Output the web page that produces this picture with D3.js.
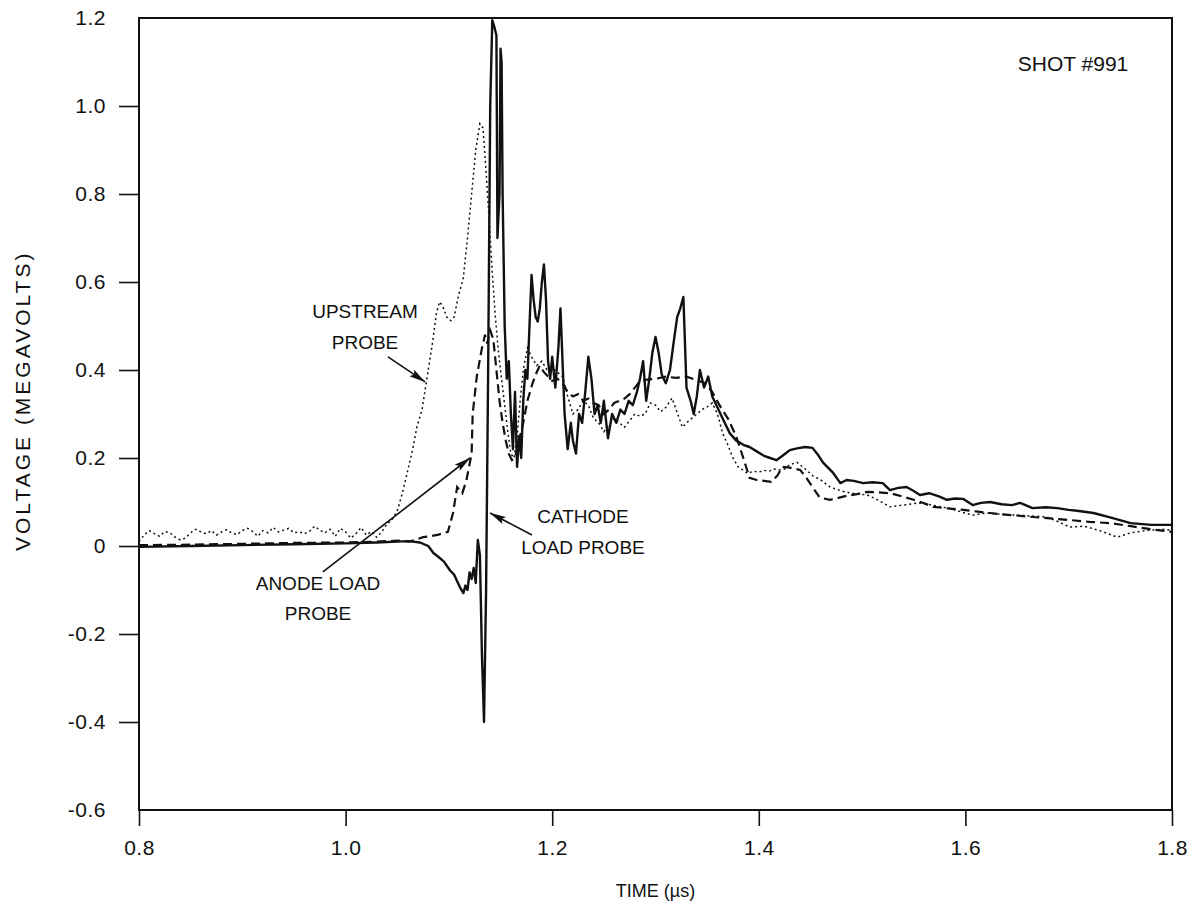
<!DOCTYPE html>
<html>
<head>
<meta charset="utf-8">
<script src="https://cdn.jsdelivr.net/npm/d3@7"></script>
<style>
  html, body { margin: 0; padding: 0; background: #fff; }
  svg { display: block; }
  text { font-family: "Liberation Sans", Arial, Helvetica, sans-serif; fill: #111; }
</style>
</head>
<body>
<svg id="chart" width="1194" height="908"></svg>
<script>
// ---------- DATA ----------
const xTicks = [0.8, 1.0, 1.2, 1.4, 1.6, 1.8];
const xTickLabels = ["0.8", "1.0", "1.2", "1.4", "1.6", "1.8"];
const yTicks = [-0.6, -0.4, -0.2, 0, 0.2, 0.4, 0.6, 0.8, 1.0, 1.2];
const yTickLabels = ["-0.6", "-0.4", "-0.2", "0", "0.2", "0.4", "0.6", "0.8", "1.0", "1.2"];

// Upstream probe (dotted)
const upT = [0.800,0.805,0.810,0.815,0.820,0.825,0.830,0.835,0.840,0.845,0.850,0.855,0.860,0.865,0.870,0.875,0.880,0.885,0.890,0.895,0.900,0.905,0.910,0.915,0.920,0.925,0.930,0.935,0.940,0.945,0.950,0.955,0.960,0.965,0.970,0.975,0.980,0.985,0.990,0.995,1.000,1.005,1.010,1.015,1.020,1.025,1.030,1.035,1.040,1.045,1.050,1.055,1.060,1.065,1.069,1.074,1.079,1.084,1.088,1.091,1.094,1.098,1.102,1.105,1.109,1.114,1.118,1.122,1.126,1.130,1.133,1.136,1.139,1.142,1.145,1.148,1.151,1.154,1.157,1.160,1.163,1.166,1.169,1.172,1.176,1.180,1.185,1.190,1.195,1.200,1.205,1.210,1.215,1.220,1.225,1.230,1.235,1.240,1.245,1.250,1.255,1.260,1.265,1.270,1.275,1.280,1.285,1.290,1.295,1.300,1.305,1.310,1.316,1.320,1.326,1.330,1.335,1.340,1.345,1.350,1.355,1.360,1.365,1.370,1.375,1.380,1.389,1.395,1.400,1.405,1.410,1.415,1.420,1.425,1.430,1.437,1.445,1.452,1.460,1.469,1.480,1.490,1.505,1.515,1.527,1.540,1.555,1.570,1.585,1.595,1.607,1.620,1.635,1.650,1.665,1.679,1.690,1.701,1.715,1.730,1.747,1.760,1.775,1.790,1.800];
const upV = [0.010,0.025,0.035,0.028,0.022,0.033,0.030,0.020,0.014,0.018,0.030,0.038,0.032,0.028,0.035,0.025,0.032,0.037,0.029,0.026,0.035,0.040,0.033,0.022,0.035,0.030,0.042,0.032,0.036,0.040,0.030,0.032,0.028,0.033,0.045,0.036,0.030,0.038,0.022,0.040,0.032,0.018,0.028,0.042,0.025,0.033,0.020,0.032,0.050,0.060,0.080,0.120,0.170,0.220,0.270,0.310,0.385,0.460,0.530,0.555,0.545,0.520,0.512,0.520,0.566,0.610,0.700,0.800,0.900,0.960,0.950,0.850,0.740,0.620,0.520,0.440,0.380,0.320,0.260,0.210,0.200,0.250,0.330,0.400,0.450,0.430,0.410,0.420,0.400,0.405,0.395,0.385,0.340,0.300,0.310,0.330,0.320,0.290,0.280,0.260,0.275,0.290,0.280,0.270,0.285,0.300,0.295,0.300,0.325,0.320,0.305,0.315,0.336,0.310,0.270,0.280,0.290,0.300,0.310,0.316,0.325,0.300,0.256,0.230,0.200,0.180,0.165,0.170,0.168,0.172,0.170,0.175,0.173,0.175,0.185,0.190,0.175,0.160,0.150,0.134,0.125,0.120,0.116,0.105,0.089,0.093,0.098,0.092,0.085,0.078,0.070,0.075,0.072,0.070,0.068,0.066,0.055,0.043,0.045,0.035,0.020,0.030,0.035,0.038,0.036];

// Anode load probe (dashed)
const anT = [0.800,0.850,0.900,0.950,1.000,1.030,1.050,1.062,1.070,1.075,1.082,1.090,1.099,1.104,1.108,1.113,1.117,1.122,1.123,1.127,1.132,1.135,1.137,1.140,1.143,1.146,1.149,1.152,1.155,1.158,1.161,1.164,1.168,1.172,1.176,1.181,1.185,1.188,1.192,1.196,1.200,1.205,1.210,1.215,1.220,1.225,1.230,1.235,1.240,1.245,1.250,1.255,1.260,1.265,1.270,1.275,1.280,1.285,1.292,1.300,1.310,1.320,1.330,1.336,1.342,1.348,1.355,1.362,1.370,1.378,1.385,1.391,1.398,1.405,1.412,1.418,1.423,1.430,1.440,1.446,1.452,1.459,1.469,1.478,1.485,1.495,1.505,1.515,1.527,1.540,1.550,1.560,1.569,1.585,1.598,1.612,1.624,1.635,1.646,1.660,1.675,1.690,1.701,1.720,1.740,1.760,1.780,1.800];
const anV = [0.002,0.003,0.005,0.007,0.008,0.010,0.012,0.010,0.016,0.020,0.022,0.026,0.032,0.075,0.134,0.120,0.150,0.210,0.300,0.385,0.450,0.480,0.460,0.490,0.470,0.400,0.330,0.280,0.240,0.210,0.195,0.200,0.240,0.280,0.330,0.370,0.395,0.410,0.395,0.385,0.375,0.380,0.370,0.350,0.340,0.345,0.330,0.335,0.325,0.320,0.300,0.310,0.325,0.330,0.335,0.345,0.360,0.375,0.378,0.380,0.385,0.382,0.385,0.380,0.375,0.370,0.350,0.320,0.290,0.250,0.200,0.155,0.150,0.148,0.146,0.160,0.180,0.178,0.173,0.155,0.134,0.110,0.105,0.110,0.114,0.118,0.123,0.122,0.120,0.112,0.105,0.097,0.089,0.085,0.082,0.078,0.075,0.072,0.070,0.067,0.064,0.061,0.059,0.055,0.052,0.045,0.038,0.032];

// Cathode load probe (solid)
const caT = [0.800,0.850,0.900,0.950,1.000,1.030,1.050,1.060,1.065,1.072,1.080,1.085,1.090,1.095,1.101,1.105,1.108,1.111,1.114,1.116,1.118,1.120,1.122,1.124,1.126,1.128,1.130,1.132,1.134,1.136,1.138,1.140,1.142,1.144,1.146,1.147,1.149,1.150,1.151,1.152,1.154,1.156,1.158,1.160,1.162,1.164,1.166,1.168,1.170,1.172,1.174,1.176,1.178,1.180,1.182,1.184,1.186,1.188,1.190,1.192,1.194,1.196,1.198,1.200,1.203,1.206,1.208,1.210,1.212,1.215,1.218,1.220,1.223,1.226,1.229,1.232,1.235,1.238,1.241,1.244,1.247,1.250,1.254,1.258,1.262,1.266,1.270,1.274,1.278,1.282,1.285,1.288,1.291,1.294,1.297,1.300,1.303,1.306,1.310,1.314,1.318,1.321,1.324,1.327,1.330,1.334,1.337,1.340,1.343,1.347,1.351,1.355,1.360,1.365,1.372,1.378,1.385,1.391,1.398,1.405,1.411,1.417,1.423,1.430,1.437,1.445,1.452,1.458,1.462,1.467,1.472,1.479,1.485,1.492,1.501,1.510,1.520,1.527,1.535,1.543,1.550,1.556,1.565,1.575,1.582,1.590,1.598,1.607,1.615,1.624,1.635,1.645,1.653,1.665,1.678,1.689,1.700,1.708,1.724,1.740,1.760,1.780,1.800];
const caV = [-0.002,0.000,0.002,0.004,0.006,0.008,0.010,0.011,0.010,0.008,0.000,-0.016,-0.025,-0.035,-0.055,-0.065,-0.080,-0.095,-0.107,-0.090,-0.100,-0.060,-0.075,-0.050,-0.084,0.014,-0.020,-0.250,-0.400,-0.100,0.400,1.000,1.195,1.180,1.160,0.700,0.800,1.130,1.100,0.800,0.500,0.380,0.420,0.300,0.220,0.350,0.180,0.250,0.200,0.330,0.400,0.380,0.500,0.616,0.560,0.520,0.510,0.540,0.600,0.640,0.560,0.420,0.380,0.430,0.360,0.450,0.540,0.420,0.300,0.220,0.280,0.240,0.210,0.300,0.280,0.350,0.430,0.380,0.300,0.320,0.280,0.330,0.245,0.300,0.280,0.310,0.300,0.330,0.320,0.350,0.380,0.420,0.330,0.380,0.440,0.475,0.440,0.390,0.370,0.400,0.470,0.520,0.540,0.566,0.360,0.330,0.300,0.340,0.400,0.360,0.385,0.340,0.315,0.290,0.256,0.240,0.230,0.225,0.215,0.205,0.200,0.195,0.205,0.218,0.222,0.225,0.223,0.205,0.190,0.178,0.166,0.143,0.150,0.148,0.143,0.145,0.143,0.127,0.132,0.134,0.125,0.116,0.120,0.112,0.105,0.108,0.107,0.093,0.098,0.100,0.095,0.093,0.098,0.086,0.088,0.086,0.082,0.080,0.075,0.065,0.052,0.048,0.048];

// Annotation texts
const annoShot = "SHOT #991";
const annoUpstream = ["UPSTREAM", "PROBE"];
const annoAnode = ["ANODE LOAD", "PROBE"];
const annoCathode = ["CATHODE", "LOAD PROBE"];
const xTitle = "TIME (\u00b5s)";
const yTitle = "VOLTAGE (MEGAVOLTS)";

// ---------- DRAW ----------
const svg = d3.select("#chart");
const x = d3.scaleLinear().domain([0.8, 1.8]).range([139, 1172]);
const y = d3.scaleLinear().domain([-0.6, 1.2]).range([810, 18]);

svg.append("defs").append("marker")
  .attr("id", "arrow").attr("viewBox", "0 0 16 8")
  .attr("refX", 16).attr("refY", 4)
  .attr("markerWidth", 16).attr("markerHeight", 8)
  .attr("markerUnits", "userSpaceOnUse").attr("orient", "auto")
  .append("path").attr("d", "M0,0 L16,4 L0,8 L3,4 Z").attr("fill", "#111");

// frame
svg.append("rect").attr("x", x(0.8)).attr("y", y(1.2))
  .attr("width", x(1.8) - x(0.8)).attr("height", y(-0.6) - y(1.2))
  .attr("fill", "none").attr("stroke", "#111").attr("stroke-width", 2);

// x axis
const xAxis = d3.axisBottom(x).tickValues(xTicks)
  .tickFormat((d, i) => xTickLabels[i]).tickSize(16).tickPadding(14);
const gx = svg.append("g").attr("transform", `translate(0,${y(-0.6)})`).call(xAxis);
gx.select(".domain").remove();
gx.selectAll(".tick line").attr("stroke", "#111").attr("stroke-width", 1.6);
gx.selectAll(".tick text").style("font-size", "21px").style("letter-spacing", "0.5px").attr("fill", "#111");

// y axis
const yAxis = d3.axisLeft(y).tickValues(yTicks)
  .tickFormat((d, i) => yTickLabels[i]).tickSize(20).tickPadding(13);
const gy = svg.append("g").attr("transform", `translate(${x(0.8)},0)`).call(yAxis);
gy.select(".domain").remove();
gy.selectAll(".tick line").attr("stroke", "#111").attr("stroke-width", 1.6)
  .attr("opacity", d => (d === 1.2 || d === -0.6) ? 0 : 1);
gy.selectAll(".tick text").style("font-size", "21px").style("letter-spacing", "0.5px").attr("fill", "#111");

// lines
const line = d3.line().x(d => x(d[0])).y(d => y(d[1]));
const zip = (a, b) => a.map((t, i) => [t, b[i]]);

svg.append("path").datum(zip(upT, upV)).attr("d", line)
  .attr("fill", "none").attr("stroke", "#111").attr("stroke-width", 1.5)
  .attr("stroke-dasharray", "2,3");
svg.append("path").datum(zip(anT, anV)).attr("d", line)
  .attr("fill", "none").attr("stroke", "#111").attr("stroke-width", 2.2)
  .attr("stroke-dasharray", "9,5");
svg.append("path").datum(zip(caT, caV)).attr("d", line)
  .attr("fill", "none").attr("stroke", "#111").attr("stroke-width", 2.4)
  .attr("stroke-linejoin", "round");

// titles
svg.append("text").attr("x", (x(0.8) + x(1.8)) / 2).attr("y", 897)
  .attr("text-anchor", "middle").style("font-size", "18px").text(xTitle);
svg.append("text").attr("transform", `translate(30,${y(0.33)}) rotate(-90)`)
  .attr("text-anchor", "middle").style("font-size", "21px").style("letter-spacing", "3px").text(yTitle);

// annotations
svg.append("text").attr("x", x(1.7042)).attr("y", y(1.0795))
  .attr("text-anchor", "middle").style("font-size", "21px").text(annoShot);

function block(lines, cx, cy, dy) {
  lines.forEach((s, i) => {
    svg.append("text").attr("x", cx).attr("y", cy + i * dy)
      .attr("text-anchor", "middle").style("font-size", "19px").text(s);
  });
}
block(annoUpstream, x(1.0188), y(0.518), 31);
block(annoAnode, x(0.9733), y(-0.10), 30);
block(annoCathode, x(1.2298), y(0.052), 31);

function arrow(t0, v0, t1, v1) {
  svg.append("line").attr("x1", x(t0)).attr("y1", y(v0)).attr("x2", x(t1)).attr("y2", y(v1))
    .attr("stroke", "#111").attr("stroke-width", 1.6).attr("marker-end", "url(#arrow)");
}
arrow(1.041, 0.430, 1.077, 0.373);
arrow(0.978, -0.059, 1.1204, 0.200);
arrow(1.1804, 0.025, 1.1398, 0.075);
</script>
</body>
</html>
